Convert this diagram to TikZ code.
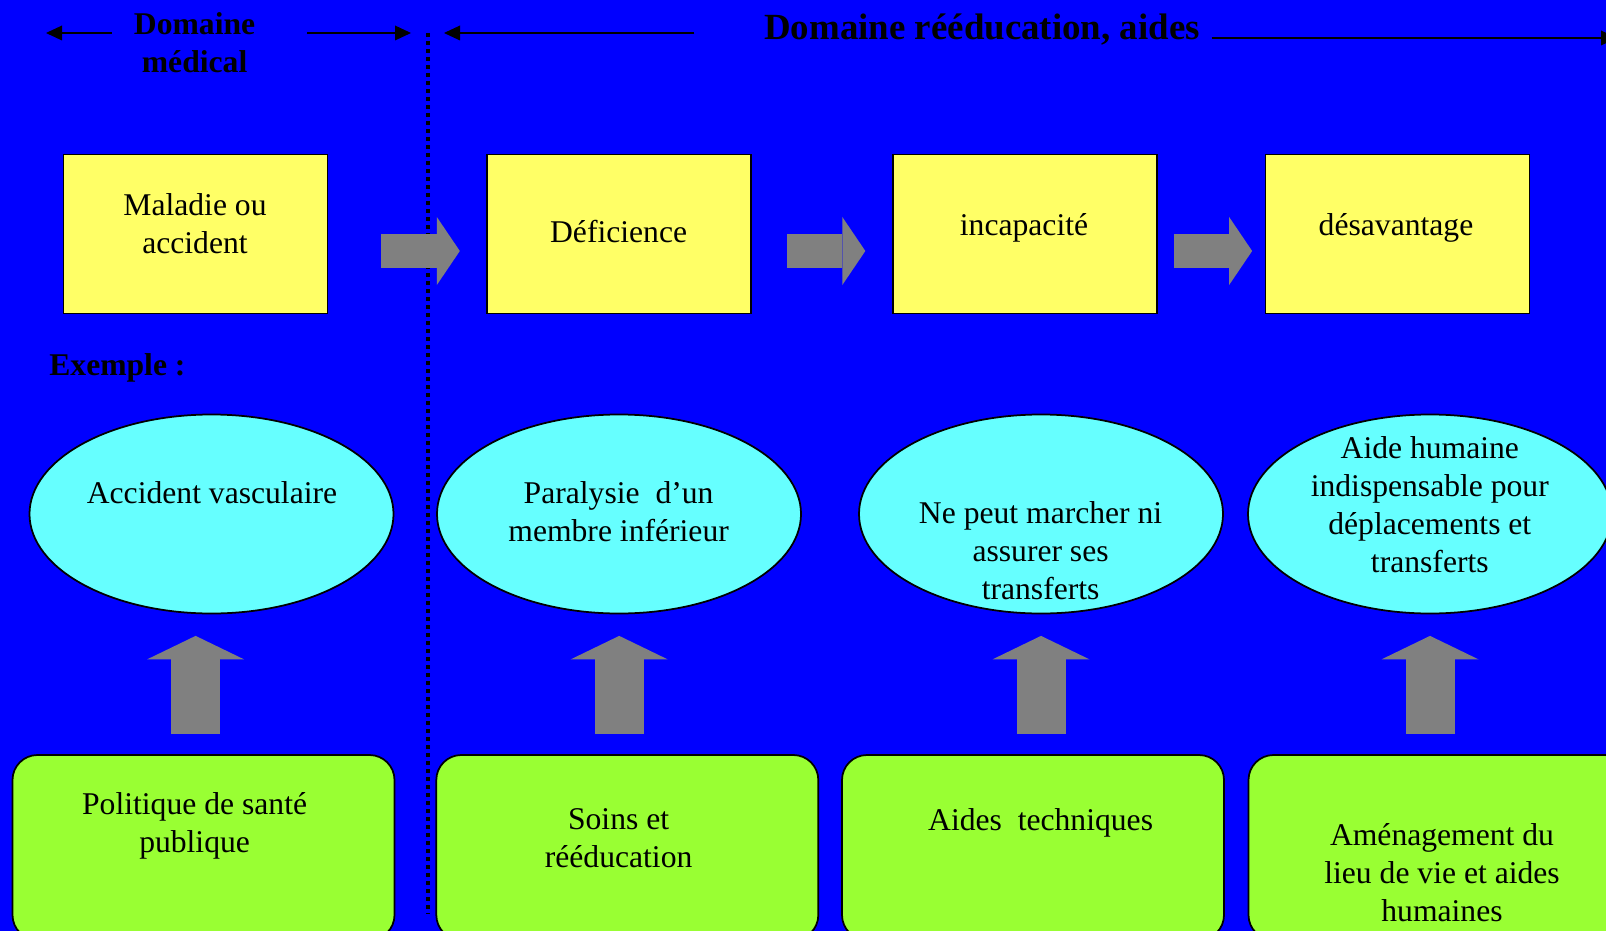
\documentclass[tikz,border=0pt]{standalone}
\usepackage{fontspec}
\setmainfont{Liberation Serif}
\usepackage{xcolor}
\usetikzlibrary{arrows.meta,positioning,calc,shapes.geometric}
\definecolor{bgblue}{RGB}{0,0,255}
\definecolor{boxyellow}{RGB}{255,255,102}
\definecolor{ellcyan}{RGB}{102,255,255}
\definecolor{actgreen}{RGB}{153,255,51}
\definecolor{arrgray}{RGB}{128,128,128}
\tikzset{
  ybox/.style={draw, line width=0.35mm, fill=boxyellow, minimum width=52.8mm,
               minimum height=31.8mm, inner sep=0pt},
  ebox/.style={ellipse, draw, line width=0.35mm, fill=ellcyan, minimum width=72.8mm,
               minimum height=39.8mm, inner sep=0pt},
  gbox/.style={draw, line width=0.35mm, fill=actgreen, rounded corners=5mm,
               minimum width=76.4mm, minimum height=37mm, inner sep=0pt},
  txt/.style={align=center, font=\fontsize{18}{21.6}\selectfont, inner sep=0pt},
  headtxt/.style={txt, font=\bfseries\fontsize{18}{21.6}\selectfont},
  hflow/.style={line width=6.9mm, draw=arrgray,
                -{Triangle[length=4.6mm, width=13.6mm, line width=0pt]}},
  vflow/.style={line width=9.8mm, draw=arrgray,
                -{Triangle[length=4.7mm, width=19.4mm, line width=0pt]}},
  dflow/.style={line width=0.45mm, -{Triangle[length=3.2mm, width=3mm, line width=0pt]}},
  sepline/.style={line width=0.7mm, dash pattern=on 0.8mm off 0.8mm},
}

\begin{document}
\begin{tikzpicture}[x=0.2mm, y=-0.2mm]
  \fill[bgblue] (0,0) rectangle (1606,931);
  \clip (0,0) rectangle (1606,931);

  % header: domains
  \node[headtxt] (hmed) at (194.6,42.5) {Domaine\\médical};
  \node[headtxt, font=\bfseries\fontsize{21}{25}\selectfont] (hree) at (982,29.6)
    {Domaine rééducation, aides};
  \coordinate (medA) at (111.7,33);
  \coordinate (medB) at (46,33);
  \coordinate (medC) at (307,33);
  \coordinate (medD) at (411,33);
  \coordinate (reeA) at (694.4,33);
  \coordinate (reeB) at (444,33);
  \coordinate (reeC) at (1211.6,38);
  \coordinate (reeD) at (1617,38);
  \coordinate (sepT) at (428,33);
  \coordinate (sepB) at (428,914);
  \draw[dflow] (medA) -- (medB);
  \draw[dflow] (medC) -- (medD);
  \draw[dflow] (reeA) -- (reeB);
  \draw[dflow] (reeC) -- (reeD);
  \draw[sepline] (sepT) -- (sepB);

  % top row
  \node[ybox] (m1) at (195.6,234) {};
  \node[ybox] (m2) at (619.2,234) {};
  \node[ybox] (m3) at (1024.7,234) {};
  \node[ybox] (m4) at (1397.5,234) {};
  \node[txt] (m1t) at (195,224) {Maladie ou\\accident};
  \node[txt] (m2t) at (618.6,231.5) {Déficience};
  \node[txt] (m3t) at (1024,228.3) {incapacité};
  \node[txt] (m4t) at (1396,228.3) {désavantage};
  \draw[hflow, shorten <=10.6mm, shorten >=5.3mm]
    ([yshift=-3.4mm]m1.east) -- ([yshift=-3.4mm]m2.west);
  \draw[hflow, shorten <=7mm, shorten >=5.3mm]
    ([yshift=-3.4mm]m2.east) -- ([yshift=-3.4mm]m3.west);
  \draw[hflow, shorten <=3.3mm, shorten >=2.5mm]
    ([yshift=-3.4mm]m3.east) -- ([yshift=-3.4mm]m4.west);

  \node[headtxt, anchor=west] (ex) at (49,368) {Exemple :};

  % examples
  \node[ebox] (e1) at (211.5,514) {};
  \node[ebox] (e2) at (619,514) {};
  \node[ebox] (e3) at (1041,514) {};
  \node[ebox] (e4) at (1430,514) {};
  \node[txt] (e1t) at (212,492.6) {Accident vasculaire};
  \node[txt] (e2t) at (618.6,511.6) {Paralysie\ \ d’un\\membre inférieur};
  \node[txt] (e3t) at (1040.6,551) {Ne peut marcher ni\\assurer ses\\transferts};
  \node[txt] (e4t) at (1429.8,505) {Aide humaine\\indispensable pour\\déplacements et\\transferts};

  % actions
  \node[gbox] (g1) at (203.5,847.5) {};
  \node[gbox] (g2) at (627.3,847.5) {};
  \node[gbox] (g3) at (1033,847.5) {};
  \node[gbox] (g4) at (1439.5,847.5) {};
  \node[txt] (g1t) at (194.6,825.5) {Politique de santé\\publique};
  \node[txt] (g2t) at (618.6,838.3) {Soins et\\rééducation};
  \node[txt] (g3t) at (1040.6,822.4) {Aides\ \ techniques};
  \node[txt] (g4t) at (1442,872.6) {Aménagement du\\lieu de vie et aides\\humaines};
  \draw[vflow, shorten <=4.1mm, shorten >=4.3mm] (g1.north -| m1.south) -- (e1.south -| m1.south);
  \draw[vflow, shorten <=4.1mm, shorten >=4.3mm] (g2.north -| m2.south) -- (e2.south -| m2.south);
  \draw[vflow, shorten <=4.1mm, shorten >=4.3mm] (g3.north -| e3.south) -- (e3.south);
  \draw[vflow, shorten <=4.1mm, shorten >=4.3mm] (g4.north -| e4.south) -- (e4.south);
\end{tikzpicture}
\end{document}
